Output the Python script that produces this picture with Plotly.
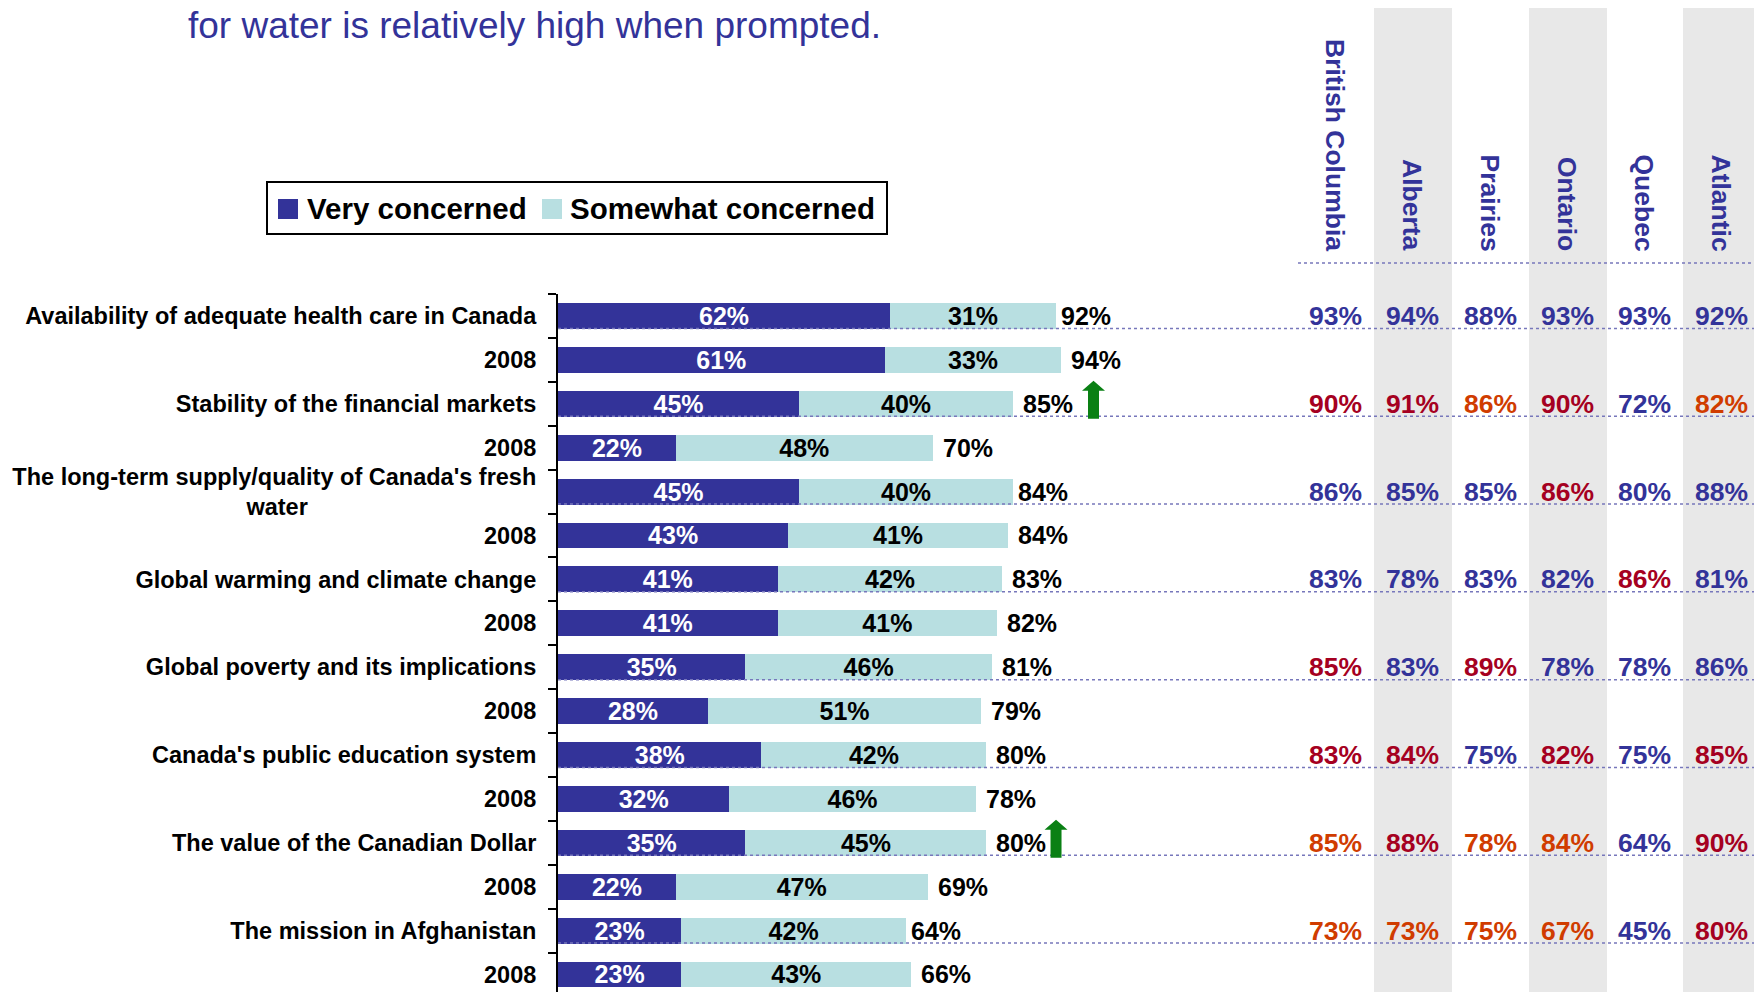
import plotly.graph_objects as go

# ---------------- data ----------------
labels = [
    "Availability of adequate health care in Canada", "2008",
    "Stability of the financial markets", "2008",
    "The long-term supply/quality of Canada's fresh<br>water" + "\u00a0" * 35, "2008",
    "Global warming and climate change", "2008",
    "Global poverty and its implications", "2008",
    "Canada's public education system", "2008",
    "The value of the Canadian Dollar", "2008",
    "The mission in Afghanistan", "2008",
]
very = [62, 61, 45, 22, 45, 43, 41, 41, 35, 28, 38, 32, 35, 22, 23, 23]
somewhat = [31, 33, 40, 48, 40, 41, 42, 41, 46, 51, 42, 46, 45, 47, 42, 43]
total = [92, 94, 85, 70, 84, 84, 83, 82, 81, 79, 80, 78, 80, 69, 64, 66]

regions = ["British Columbia", "Alberta", "Prairies", "Ontario", "Quebec", "Atlantic"]
region_rows = [0, 2, 4, 6, 8, 10, 12, 14]
bc = [93, 90, 86, 83, 85, 83, 85, 73]
alberta = [94, 91, 85, 78, 83, 84, 88, 73]
prairies = [88, 86, 85, 83, 89, 75, 78, 75]
ontario = [93, 90, 86, 82, 78, 82, 84, 67]
quebec = [93, 72, 80, 86, 78, 75, 64, 45]
atlantic = [92, 82, 88, 81, 86, 85, 90, 80]
# significance colour codes: b = normal, r = higher, o = elevated
bc_c = ["b", "r", "b", "b", "r", "r", "o", "o"]
alberta_c = ["b", "r", "b", "b", "b", "r", "r", "o"]
prairies_c = ["b", "o", "b", "b", "r", "b", "o", "o"]
ontario_c = ["b", "r", "r", "b", "b", "r", "o", "o"]
quebec_c = ["b", "b", "b", "r", "b", "b", "b", "b"]
atlantic_c = ["b", "o", "b", "b", "b", "r", "r", "r"]

arrow_rows = [2, 12]
arrow_x = [100, 93]

title_text = "for water is relatively high when prompted."

# ---------------- style ----------------
PAGE_W, PAGE_H = 1762, 992
OFF = 8  # default body margin of the html page
W, H = PAGE_W - OFF, PAGE_H - OFF
FONT = "Liberation Sans, Arial, sans-serif"
DARK = "#333399"
LIGHT = "#B8DFE1"
RED = "#A50021"
ORANGE = "#D03C00"
code_col = {"b": DARK, "r": RED, "o": ORANGE}

def px(xp):
    return (xp - OFF) / W

def py(yp):
    return (H - (yp - OFF)) / H

axis_px = 558
plot_right_px = 1298
plot_top_px = 294
row_px = 43.9
px_per_unit = 5.355
n = len(labels)
ys = list(range(n))

fig = go.Figure()
fig.add_trace(go.Bar(
    y=ys, x=very, orientation="h", name="Very concerned",
    marker=dict(color=DARK, line=dict(width=0)), width=0.59,
    text=[f"{v}%" for v in very], textposition="inside", insidetextanchor="middle",
    textangle=0,
    textfont=dict(family=FONT, size=25, color="white", weight="bold"),
    showlegend=False, hoverinfo="skip",
))
fig.add_trace(go.Bar(
    y=ys, x=somewhat, orientation="h", name="Somewhat concerned",
    marker=dict(color=LIGHT, line=dict(width=0)), width=0.59,
    text=[f"{v}%" for v in somewhat], textposition="inside", insidetextanchor="middle",
    textangle=0,
    textfont=dict(family=FONT, size=25, color="black", weight="bold"),
    showlegend=False, hoverinfo="skip",
))

annotations = []
shapes = []

# totals
for i, t in enumerate(total):
    annotations.append(dict(
        x=t, y=i, xref="x", yref="y", text=f"{t}%", showarrow=False,
        xanchor="left", yanchor="middle", xshift=8,
        font=dict(family=FONT, size=25, color="black", weight="bold"),
    ))

# gray columns
col_left = [1298, 1374, 1452, 1529, 1607, 1683]
col_right = [1374, 1452, 1529, 1607, 1683, 1762]
col_center = [1335, 1412, 1490, 1567, 1644, 1721]
for c in [1, 3, 5]:
    shapes.append(dict(type="rect", xref="paper", yref="paper",
                       x0=px(col_left[c]), x1=px(col_right[c]), y0=0, y1=1,
                       fillcolor="#E8E8E8", line=dict(width=0), layer="below"))

# headers
for c, name in enumerate(regions):
    annotations.append(dict(
        x=px(col_center[c]), y=py(253), xref="paper", yref="paper",
        text=name, textangle=90, showarrow=False,
        xanchor="center", yanchor="bottom",
        font=dict(family=FONT, size=26.5, color=DARK, weight="bold"),
    ))
shapes.append(dict(type="line", xref="paper", yref="paper",
                   x0=px(plot_right_px), x1=1, y0=py(263), y1=py(263),
                   line=dict(color="#7777BB", width=1.5, dash="dot")))

# region values
region_vals = [bc, alberta, prairies, ontario, quebec, atlantic]
region_cols = [bc_c, alberta_c, prairies_c, ontario_c, quebec_c, atlantic_c]
for c in range(len(regions)):
    for k, r in enumerate(region_rows):
        annotations.append(dict(
            x=px(col_center[c]), y=r, xref="paper", yref="y",
            text=f"{region_vals[c][k]}%", showarrow=False,
            xanchor="center", yanchor="middle",
            font=dict(family=FONT, size=26.5, color=code_col[region_cols[c][k]], weight="bold"),
        ))

# dotted row lines
for r in region_rows:
    yy = r + 12.5 / row_px
    shapes.append(dict(type="line", xref="paper", yref="y",
                       x0=px(axis_px), x1=1, y0=yy, y1=yy,
                       line=dict(color="#7777BB", width=1.5, dash="dot"), layer="above"))

# arrows
arrow_path = "M -5.5,-15 L 5.5,-15 L 5.5,13 L 11.5,13 L 0,23 L -11.5,13 L -5.5,13 Z"
for r, ax in zip(arrow_rows, arrow_x):
    shapes.append(dict(type="path", xref="x", yref="y",
                       xsizemode="pixel", ysizemode="pixel",
                       xanchor=ax, yanchor=r, path=arrow_path,
                       fillcolor="#0A8014", line=dict(width=0), layer="above"))

# manual legend
shapes.append(dict(type="rect", xref="paper", yref="paper",
                   x0=px(267), x1=px(887), y0=py(234), y1=py(182),
                   line=dict(color="black", width=2), fillcolor="white"))
shapes.append(dict(type="rect", xref="paper", yref="paper",
                   x0=px(278), x1=px(298), y0=py(219), y1=py(199),
                   line=dict(width=0), fillcolor=DARK))
shapes.append(dict(type="rect", xref="paper", yref="paper",
                   x0=px(542), x1=px(562), y0=py(219), y1=py(199),
                   line=dict(width=0), fillcolor=LIGHT))
annotations.append(dict(x=px(305), y=py(209), xref="paper", yref="paper",
                        text="Very concerned", showarrow=False, xanchor="left", yanchor="middle",
                        font=dict(family=FONT, size=29.5, color="black", weight="bold")))
annotations.append(dict(x=px(568), y=py(209), xref="paper", yref="paper",
                        text="Somewhat concerned", showarrow=False, xanchor="left", yanchor="middle",
                        font=dict(family=FONT, size=29.5, color="black", weight="bold")))

# title fragment
annotations.append(dict(x=px(187), y=py(25), xref="paper", yref="paper",
                        text=title_text, showarrow=False, xanchor="left", yanchor="middle",
                        borderpad=0,
                        font=dict(family=FONT, size=37, color=DARK)))

x_range_max = (plot_right_px - axis_px) / px_per_unit
y_bottom = -0.5 + (PAGE_H - plot_top_px) / row_px

fig.update_layout(
    width=W, height=H,
    margin=dict(l=0, r=0, t=0, b=0),
    barmode="stack",
    paper_bgcolor="white", plot_bgcolor="rgba(0,0,0,0)",
    uniformtext=dict(mode="show", minsize=25),
    showlegend=False,
    xaxis=dict(domain=[px(axis_px), px(plot_right_px)], range=[0, x_range_max],
               visible=False, fixedrange=True),
    yaxis=dict(domain=[0, py(plot_top_px)], range=[y_bottom, -0.5],
               tickmode="array", tickvals=ys, ticktext=labels, ticks="",
               tickfont=dict(family=FONT, size=23.5, color="black", weight="bold"),
               ticklabelstandoff=15,
               showline=True, linecolor="black", linewidth=2,
               showgrid=False, zeroline=False,
               minor=dict(tickmode="array", tickvals=[i - 0.5 for i in range(n + 1)],
                          ticks="outside", ticklen=8, tickwidth=2, tickcolor="black",
                          showgrid=False)),
    annotations=annotations,
    shapes=shapes,
)

fig.write_html("out.html")
